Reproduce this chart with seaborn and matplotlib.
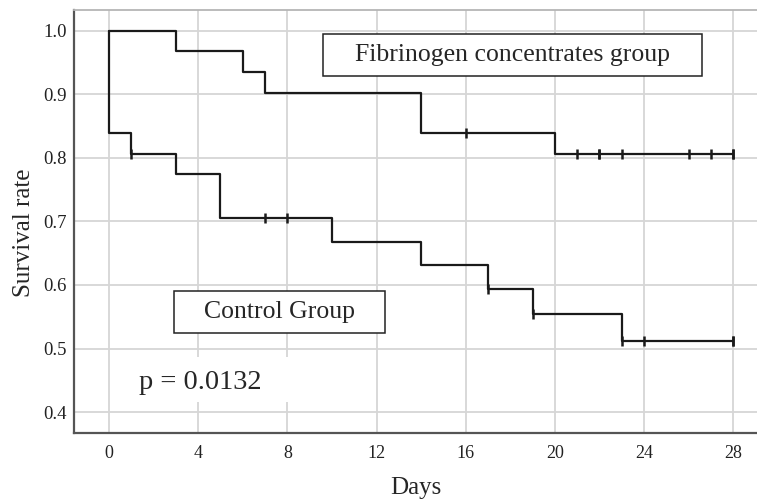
import matplotlib
matplotlib.use("Agg")
import pandas as pd
import seaborn as sns
import matplotlib.pyplot as plt
from matplotlib.patches import Rectangle

# Kaplan-Meier step values
fib_days = [0, 3, 6, 7, 14, 20, 28]
fib_surv = [1.0, 0.968, 0.935, 0.903, 0.839, 0.806, 0.806]
fib_cens_days = [16, 21, 22, 22, 23, 26, 27, 28, 28]
fib_cens_surv = [0.839, 0.806, 0.806, 0.806, 0.806, 0.806, 0.806, 0.806, 0.806]

ctrl_days = [0, 0, 1, 3, 5, 10, 14, 17, 19, 23, 28]
ctrl_surv = [1.0, 0.839, 0.806, 0.774, 0.706, 0.668, 0.631, 0.594, 0.555, 0.512, 0.512]
ctrl_cens_days = [1, 7, 8, 17, 19, 23, 24, 28, 28]
ctrl_cens_surv = [0.806, 0.706, 0.706, 0.594, 0.555, 0.512, 0.512, 0.512, 0.512]

x_ticks = [0, 4, 8, 12, 16, 20, 24, 28]
y_ticks = [0.4, 0.5, 0.6, 0.7, 0.8, 0.9, 1.0]

sns.set_style("whitegrid")
plt.rcParams["font.family"] = ["Liberation Serif", "DejaVu Serif"]

fig = plt.figure(figsize=(7.57, 5.03), dpi=100)
ax = fig.add_axes([0.0978, 0.1392, 0.9022, 0.841])

fib = pd.DataFrame({"day": fib_days, "surv": fib_surv})
ctrl = pd.DataFrame({"day": ctrl_days, "surv": ctrl_surv})
sns.lineplot(data=fib, x="day", y="surv", drawstyle="steps-post", color="#1a1a1a",
             lw=1.6, ax=ax, sort=False, estimator=None, zorder=3)
sns.lineplot(data=ctrl, x="day", y="surv", drawstyle="steps-post", color="#1a1a1a",
             lw=1.6, ax=ax, sort=False, estimator=None, zorder=3)

ax.scatter(fib_cens_days, fib_cens_surv, marker="|", s=55, color="#1a1a1a", linewidths=1.8, zorder=3)
ax.scatter(ctrl_cens_days, ctrl_cens_surv, marker="|", s=55, color="#1a1a1a", linewidths=1.8, zorder=3)

ax.set_xlim(-1.57, 29.07)
ax.set_ylim(0.367, 1.033)
ax.set_xticks(x_ticks)
ax.set_yticks(y_ticks)
ax.set_yticklabels([f"{v:.1f}" for v in y_ticks])
ax.grid(True, color="#d6d6d6", lw=1.3)
ax.tick_params(axis="both", length=0, colors="#222222")
ax.tick_params(axis="y", labelsize=13.5, pad=5)
ax.tick_params(axis="x", labelsize=13, pad=9)

ax.spines["right"].set_visible(False)
ax.spines["top"].set_color("#b5b5b5")
ax.spines["top"].set_linewidth(1.3)
for side in ["left", "bottom"]:
    ax.spines[side].set_color("#555555")
    ax.spines[side].set_linewidth(1.6)

ax.set_xlabel("Days", fontsize=18, va="center")
ax.xaxis.set_label_coords(0.5, -0.130)
ax.set_ylabel("Survival rate", fontsize=18, va="center")
ax.yaxis.set_label_coords(-0.073, 0.474)

# annotation boxes
ax.add_patch(Rectangle((0.3646, 0.844), 0.555, 0.0993, transform=ax.transAxes,
                       fc="white", ec="#222222", lw=1.1, zorder=4))
ax.text(0.642, 0.8936, "Fibrinogen concentrates group", fontsize=18.5, ha="center",
        va="center", transform=ax.transAxes, zorder=5)
ax.add_patch(Rectangle((0.1464, 0.2364), 0.309, 0.0993, transform=ax.transAxes,
                       fc="white", ec="#222222", lw=1.1, zorder=4))
ax.text(0.3009, 0.286, "Control Group", fontsize=18.5, ha="center",
        va="center", transform=ax.transAxes, zorder=5)
ax.add_patch(Rectangle((0.060, 0.0733), 0.271, 0.1064, transform=ax.transAxes,
                       fc="white", ec="none", zorder=2))
ax.text(0.1845, 0.120, "p = 0.0132", fontsize=20.5, ha="center",
        va="center", transform=ax.transAxes, zorder=5)

fig.savefig("out.png", dpi=100)
